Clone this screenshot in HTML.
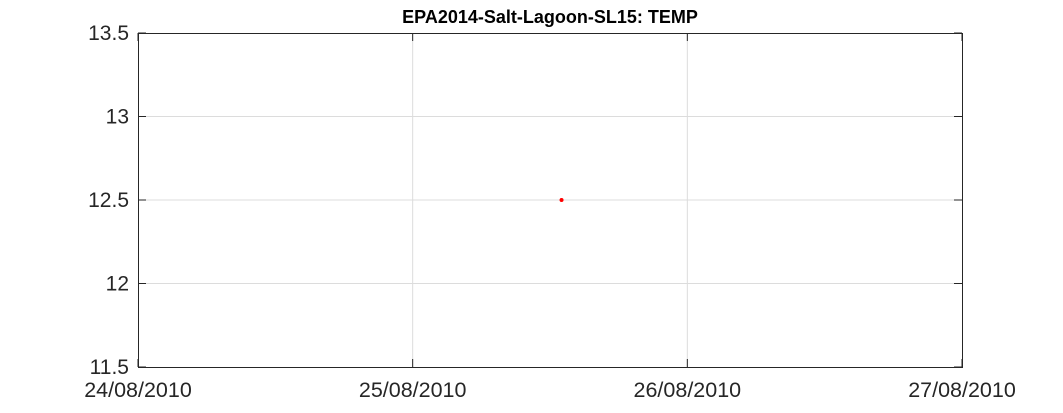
<!DOCTYPE html>
<html><head><meta charset="utf-8"><style>
html,body{margin:0;padding:0;background:#fff;}
svg{display:block;font-family:"Liberation Sans",Arial,sans-serif;}
</style></head><body>
<svg id="chart" width="1063" height="413" viewBox="0 0 1063 413" xmlns="http://www.w3.org/2000/svg">
<rect x="0" y="0" width="1063" height="413" fill="#fff"/>
<text x="550" y="23" text-anchor="middle" font-size="18" font-weight="bold" fill="#000">EPA2014-Salt-Lagoon-SL15: TEMP</text>
<g id="grid"></g>
<g id="axes"></g>
<g id="marks"></g>
</svg>
<script>
const xTickLabels = ["24/08/2010","25/08/2010","26/08/2010","27/08/2010"];
const xTickDays = [0,1,2,3];
const yTicks = [11.5,12,12.5,13,13.5];
const yTickLabels = ["11.5","12","12.5","13","13.5"];
const pointDays = [1.542];
const pointTemps = [12.5];

const L=138,R=962,T=33,B=367;
const xMin=0,xMax=3,yMin=11.5,yMax=13.5;
const xs=d=>L+(d-xMin)/(xMax-xMin)*(R-L);
const ys=v=>B-(v-yMin)/(yMax-yMin)*(B-T);
const NS="http://www.w3.org/2000/svg";
function mk(tag,attrs,parent){const e=document.createElementNS(NS,tag);for(const k in attrs)e.setAttribute(k,attrs[k]);parent.appendChild(e);return e;}
const grid=document.getElementById('grid'),axes=document.getElementById('axes'),marks=document.getElementById('marks');

xTickDays.forEach((d,i)=>{
  const x=xs(d);
  if(i>0&&i<xTickDays.length-1){
    const g=mk('line',{x1:x,x2:x,y1:T,y2:B,stroke:'#dcdcdc','stroke-width':1},grid);
    
    
  }
  const t1=mk('line',{x1:x,x2:x,y1:B,y2:B-8,stroke:'#262626','stroke-width':1},axes);
  
  
  const t2=mk('line',{x1:x,x2:x,y1:T,y2:T+8,stroke:'#262626','stroke-width':1},axes);
  
  
  const lb=mk('text',{x:x,y:397,'text-anchor':'middle','font-size':21.5,fill:'#262626'},axes);
  lb.textContent=xTickLabels[i];
  
  
});
yTicks.forEach((v,i)=>{
  const y=ys(v);
  if(i>0&&i<yTicks.length-1){
    const g=mk('line',{x1:L,x2:R,y1:y,y2:y,stroke:'#dcdcdc','stroke-width':1},grid);
    
    
  }
  const t1=mk('line',{x1:L,x2:L+8,y1:y,y2:y,stroke:'#262626','stroke-width':1},axes);
  
  
  const t2=mk('line',{x1:R,x2:R-8,y1:y,y2:y,stroke:'#262626','stroke-width':1},axes);
  
  
  const lb=mk('text',{x:129,y:y+7,'text-anchor':'end','font-size':21,fill:'#262626'},axes);
  lb.textContent=yTickLabels[i];
  
  
});
const box=mk('rect',{x:L+0.5,y:T+0.5,width:R-L,height:B-T,fill:'none',stroke:'#262626','stroke-width':1},axes);


pointDays.forEach((d,i)=>{
  const c=mk('circle',{cx:xs(d),cy:ys(pointTemps[i]),r:2,fill:'#ff0000'},marks);
  
  
});
</script>
</body></html>
